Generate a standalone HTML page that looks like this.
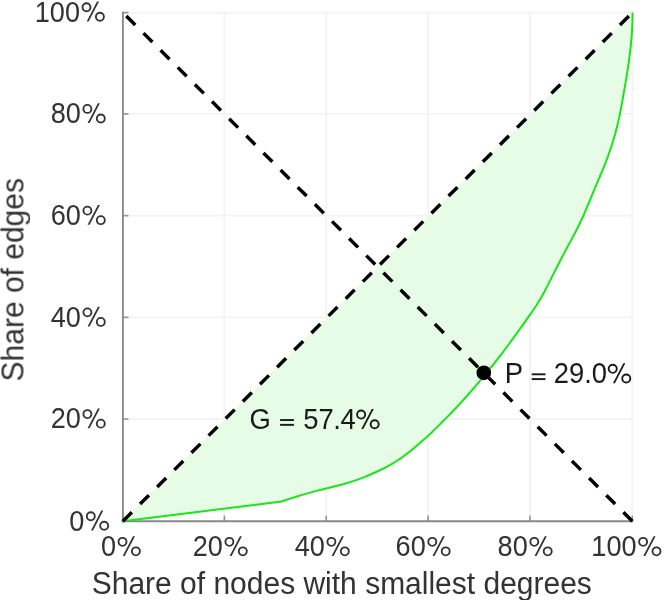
<!DOCTYPE html>
<html><head><meta charset="utf-8"><title>Lorenz curve</title>
<style>
html,body{margin:0;padding:0;background:#fff;}
body{width:668px;height:600px;overflow:hidden;font-family:"Liberation Sans",sans-serif;}
svg{display:block;}
text{font-family:"Liberation Sans",sans-serif;}
.t{filter:grayscale(1);}
</style></head>
<body>
<svg width="668" height="600" viewBox="0 0 668 600">
<rect width="668" height="600" fill="#fff"/>
<g stroke="#f3f3f3" stroke-width="1.9" fill="none"><line x1="224.38" y1="12.6" x2="224.38" y2="521.2"/><line x1="122.9" y1="419.08" x2="632.3" y2="419.08"/><line x1="326.26" y1="12.6" x2="326.26" y2="521.2"/><line x1="122.9" y1="317.36" x2="632.3" y2="317.36"/><line x1="428.14" y1="12.6" x2="428.14" y2="521.2"/><line x1="122.9" y1="215.64" x2="632.3" y2="215.64"/><line x1="530.02" y1="12.6" x2="530.02" y2="521.2"/><line x1="122.9" y1="113.92" x2="632.3" y2="113.92"/><line x1="632.30" y1="12.6" x2="632.30" y2="521.2"/><line x1="122.9" y1="12.60" x2="632.3" y2="12.60"/></g>
<polygon points="122.90,521.20 281.70,501.50 288.54,499.17 295.43,496.98 302.36,494.88 309.31,492.85 316.27,490.86 323.23,489.21 330.18,487.53 337.11,485.82 343.99,483.94 350.83,481.86 357.61,479.60 364.34,477.17 371.03,474.28 377.66,471.26 384.23,468.09 390.73,464.62 397.10,460.74 403.30,456.56 409.29,452.05 415.02,447.34 420.55,442.50 425.91,437.79 431.18,432.93 436.39,427.89 441.54,422.79 446.63,417.65 451.67,412.45 456.65,407.20 461.57,401.89 466.43,396.54 471.23,391.13 475.97,385.66 480.64,380.15 485.26,374.57 489.81,368.95 494.31,363.28 498.75,357.57 503.15,351.81 507.49,346.02 511.79,340.20 516.05,334.34 520.27,328.46 524.46,322.56 528.63,316.64 532.78,310.71 536.81,304.71 540.61,298.58 544.13,292.27 547.47,285.86 550.73,279.39 553.98,272.92 557.24,266.46 560.55,260.02 563.91,253.62 567.33,247.24 570.79,240.88 574.22,234.50 577.54,228.07 580.69,221.56 583.67,214.98 586.54,208.34 589.34,201.67 592.10,194.98 594.87,188.29 597.69,181.62 600.53,174.96 603.32,168.28 606.00,161.56 608.52,154.78 610.89,147.94 613.09,141.06 615.12,134.12 616.97,127.13 618.63,120.09 620.12,113.01 621.48,105.90 622.77,98.77 624.03,91.63 625.27,84.50 626.46,77.36 627.60,70.21 628.66,63.06 629.62,55.89 630.48,48.72 631.21,41.53 631.80,34.32 632.22,27.09 632.48,19.85 632.60,12.60" fill="#e6fce6"/>
<g stroke="#949494" stroke-width="1.6" fill="none"><line x1="122.90" y1="521.2" x2="122.90" y2="515.6"/><line x1="122.9" y1="521.20" x2="128.5" y2="521.20"/><line x1="224.38" y1="521.2" x2="224.38" y2="515.6"/><line x1="122.9" y1="419.08" x2="128.5" y2="419.08"/><line x1="326.26" y1="521.2" x2="326.26" y2="515.6"/><line x1="122.9" y1="317.36" x2="128.5" y2="317.36"/><line x1="428.14" y1="521.2" x2="428.14" y2="515.6"/><line x1="122.9" y1="215.64" x2="128.5" y2="215.64"/><line x1="530.02" y1="521.2" x2="530.02" y2="515.6"/><line x1="122.9" y1="113.92" x2="128.5" y2="113.92"/><line x1="632.30" y1="521.2" x2="632.30" y2="515.6"/><line x1="122.9" y1="12.60" x2="128.5" y2="12.60"/></g>
<g stroke="#898989" stroke-width="1.9" fill="none">
<line x1="122.9" y1="11.7" x2="122.9" y2="522.5"/>
<line x1="121.7" y1="521.3000000000001" x2="633.1999999999999" y2="521.3000000000001"/>
</g>
<polyline points="122.90,521.20 281.70,501.50 288.54,499.17 295.43,496.98 302.36,494.88 309.31,492.85 316.27,490.86 323.23,489.21 330.18,487.53 337.11,485.82 343.99,483.94 350.83,481.86 357.61,479.60 364.34,477.17 371.03,474.28 377.66,471.26 384.23,468.09 390.73,464.62 397.10,460.74 403.30,456.56 409.29,452.05 415.02,447.34 420.55,442.50 425.91,437.79 431.18,432.93 436.39,427.89 441.54,422.79 446.63,417.65 451.67,412.45 456.65,407.20 461.57,401.89 466.43,396.54 471.23,391.13 475.97,385.66 480.64,380.15 485.26,374.57 489.81,368.95 494.31,363.28 498.75,357.57 503.15,351.81 507.49,346.02 511.79,340.20 516.05,334.34 520.27,328.46 524.46,322.56 528.63,316.64 532.78,310.71 536.81,304.71 540.61,298.58 544.13,292.27 547.47,285.86 550.73,279.39 553.98,272.92 557.24,266.46 560.55,260.02 563.91,253.62 567.33,247.24 570.79,240.88 574.22,234.50 577.54,228.07 580.69,221.56 583.67,214.98 586.54,208.34 589.34,201.67 592.10,194.98 594.87,188.29 597.69,181.62 600.53,174.96 603.32,168.28 606.00,161.56 608.52,154.78 610.89,147.94 613.09,141.06 615.12,134.12 616.97,127.13 618.63,120.09 620.12,113.01 621.48,105.90 622.77,98.77 624.03,91.63 625.27,84.50 626.46,77.36 627.60,70.21 628.66,63.06 629.62,55.89 630.48,48.72 631.21,41.53 631.80,34.32 632.22,27.09 632.48,19.85 632.60,12.60" fill="none" stroke="#19e519" stroke-width="2" stroke-linejoin="round"/>
<g stroke="#000" stroke-width="3.45" fill="none" stroke-dasharray="12.6 11.62">
<line x1="122.9" y1="521.2" x2="632.3" y2="12.6"/>
<line x1="632.3" y1="521.2" x2="122.9" y2="12.6"/>
</g>
<circle cx="483.8" cy="372.8" r="7.35" fill="#000"/>
<g class="t" font-size="27.1px" fill="#333" color="#333"><text transform="translate(115.95 556.20) scale(1 1.06)" text-anchor="end">0</text><circle cx="122.50" cy="541.80" r="4.00" fill="none" stroke="currentColor" stroke-width="1.85"/><circle cx="135.90" cy="551.35" r="4.00" fill="none" stroke="currentColor" stroke-width="1.85"/><polygon points="133.00,536.20 135.00,536.20 124.70,556.00 122.70,556.00" fill="currentColor"/><text transform="translate(222.85 556.20) scale(1 1.06)" text-anchor="end">20</text><circle cx="229.40" cy="541.80" r="4.00" fill="none" stroke="currentColor" stroke-width="1.85"/><circle cx="242.80" cy="551.35" r="4.00" fill="none" stroke="currentColor" stroke-width="1.85"/><polygon points="239.90,536.20 241.90,536.20 231.60,556.00 229.60,556.00" fill="currentColor"/><text transform="translate(324.85 556.20) scale(1 1.06)" text-anchor="end">40</text><circle cx="331.40" cy="541.80" r="4.00" fill="none" stroke="currentColor" stroke-width="1.85"/><circle cx="344.80" cy="551.35" r="4.00" fill="none" stroke="currentColor" stroke-width="1.85"/><polygon points="341.90,536.20 343.90,536.20 333.60,556.00 331.60,556.00" fill="currentColor"/><text transform="translate(425.75 556.20) scale(1 1.06)" text-anchor="end">60</text><circle cx="432.30" cy="541.80" r="4.00" fill="none" stroke="currentColor" stroke-width="1.85"/><circle cx="445.70" cy="551.35" r="4.00" fill="none" stroke="currentColor" stroke-width="1.85"/><polygon points="442.80,536.20 444.80,536.20 434.50,556.00 432.50,556.00" fill="currentColor"/><text transform="translate(527.75 556.20) scale(1 1.06)" text-anchor="end">80</text><circle cx="534.30" cy="541.80" r="4.00" fill="none" stroke="currentColor" stroke-width="1.85"/><circle cx="547.70" cy="551.35" r="4.00" fill="none" stroke="currentColor" stroke-width="1.85"/><polygon points="544.80,536.20 546.80,536.20 536.50,556.00 534.50,556.00" fill="currentColor"/><text transform="translate(636.55 556.20) scale(1 1.06)" text-anchor="end">100</text><circle cx="643.10" cy="541.80" r="4.00" fill="none" stroke="currentColor" stroke-width="1.85"/><circle cx="656.50" cy="551.35" r="4.00" fill="none" stroke="currentColor" stroke-width="1.85"/><polygon points="653.60,536.20 655.60,536.20 645.30,556.00 643.30,556.00" fill="currentColor"/><text transform="translate(84.25 530.60) scale(1 1.06)" text-anchor="end">0</text><circle cx="90.80" cy="516.20" r="4.00" fill="none" stroke="currentColor" stroke-width="1.85"/><circle cx="104.20" cy="525.75" r="4.00" fill="none" stroke="currentColor" stroke-width="1.85"/><polygon points="101.30,510.60 103.30,510.60 93.00,530.40 91.00,530.40" fill="currentColor"/><text transform="translate(80.85 428.48) scale(1 1.06)" text-anchor="end">20</text><circle cx="87.40" cy="414.08" r="4.00" fill="none" stroke="currentColor" stroke-width="1.85"/><circle cx="100.80" cy="423.63" r="4.00" fill="none" stroke="currentColor" stroke-width="1.85"/><polygon points="97.90,408.48 99.90,408.48 89.60,428.28 87.60,428.28" fill="currentColor"/><text transform="translate(80.85 326.76) scale(1 1.06)" text-anchor="end">40</text><circle cx="87.40" cy="312.36" r="4.00" fill="none" stroke="currentColor" stroke-width="1.85"/><circle cx="100.80" cy="321.91" r="4.00" fill="none" stroke="currentColor" stroke-width="1.85"/><polygon points="97.90,306.76 99.90,306.76 89.60,326.56 87.60,326.56" fill="currentColor"/><text transform="translate(80.85 225.04) scale(1 1.06)" text-anchor="end">60</text><circle cx="87.40" cy="210.64" r="4.00" fill="none" stroke="currentColor" stroke-width="1.85"/><circle cx="100.80" cy="220.19" r="4.00" fill="none" stroke="currentColor" stroke-width="1.85"/><polygon points="97.90,205.04 99.90,205.04 89.60,224.84 87.60,224.84" fill="currentColor"/><text transform="translate(80.85 123.32) scale(1 1.06)" text-anchor="end">80</text><circle cx="87.40" cy="108.92" r="4.00" fill="none" stroke="currentColor" stroke-width="1.85"/><circle cx="100.80" cy="118.47" r="4.00" fill="none" stroke="currentColor" stroke-width="1.85"/><polygon points="97.90,103.32 99.90,103.32 89.60,123.12 87.60,123.12" fill="currentColor"/><text transform="translate(79.95 21.60) scale(1 1.06)" text-anchor="end">100</text><circle cx="86.50" cy="7.20" r="4.00" fill="none" stroke="currentColor" stroke-width="1.85"/><circle cx="99.90" cy="16.75" r="4.00" fill="none" stroke="currentColor" stroke-width="1.85"/><polygon points="97.00,1.60 99.00,1.60 88.70,21.40 86.70,21.40" fill="currentColor"/></g>
<g class="t" font-size="27.4px" fill="#1a1a1a" color="#1a1a1a"><text transform="translate(249.60 429.15) scale(1 1.07)">G</text><rect x="280.10" y="419.10" width="13.8" height="1.9"/><rect x="280.10" y="423.90" width="13.8" height="1.9"/><text transform="translate(354.62 429.15) scale(1 1.07)" text-anchor="end"><tspan dx="1.0">5</tspan>7<tspan dx="-0.5">.</tspan><tspan dx="-0.5">4</tspan></text><circle cx="361.13" cy="414.59" r="4.04" fill="none" stroke="currentColor" stroke-width="1.87"/><circle cx="374.67" cy="424.25" r="4.04" fill="none" stroke="currentColor" stroke-width="1.87"/><polygon points="371.74,408.93 373.76,408.93 363.35,428.95 361.33,428.95" fill="currentColor"/><text transform="translate(504.70 383.40) scale(1 1.07)">P</text><rect x="531.70" y="373.35" width="13.8" height="1.9"/><rect x="531.70" y="378.15" width="13.8" height="1.9"/><text transform="translate(607.07 383.40) scale(1 1.07)" text-anchor="end">29.0</text><circle cx="612.73" cy="368.84" r="4.04" fill="none" stroke="currentColor" stroke-width="1.87"/><circle cx="626.27" cy="378.50" r="4.04" fill="none" stroke="currentColor" stroke-width="1.87"/><polygon points="623.34,363.18 625.36,363.18 614.95,383.20 612.93,383.20" fill="currentColor"/></g>
<g class="t" font-size="30px" fill="#333">
<text transform="translate(91.7 594.0) scale(1 1.055)">Share of nodes with smallest degrees</text>
<text transform="translate(23.0 279.7) rotate(-90) scale(1 1.055)" text-anchor="middle">Share of edges</text>
</g>
</svg>
</body></html>
